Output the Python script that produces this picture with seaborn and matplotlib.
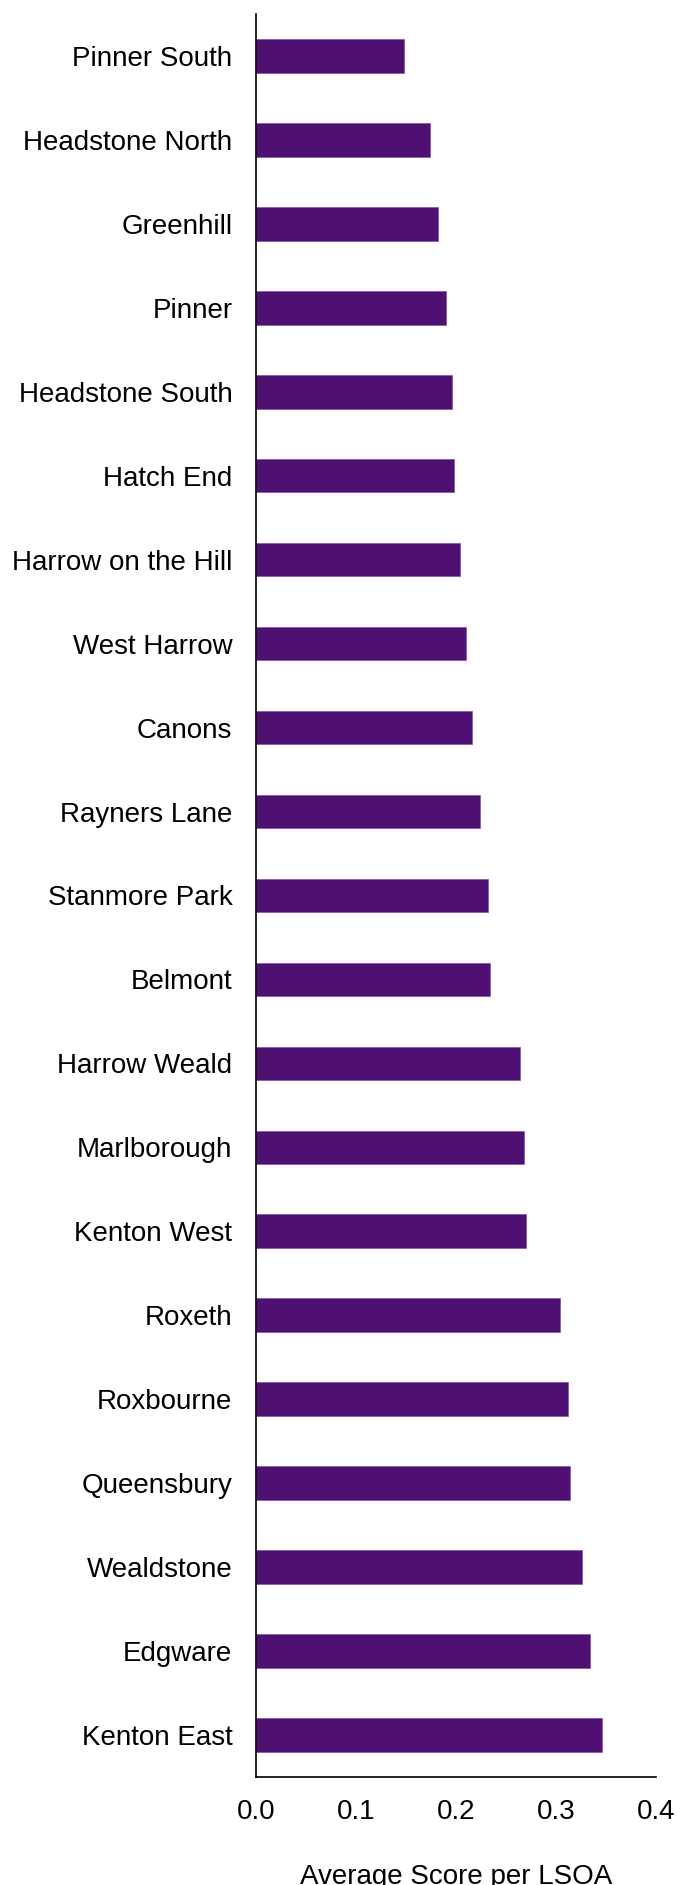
import matplotlib
matplotlib.use('Agg')
import matplotlib.pyplot as plt
import seaborn as sns
import pandas as pd

# ward names, top to bottom
wards = ['Pinner South', 'Headstone North', 'Greenhill', 'Pinner', 'Headstone South',
         'Hatch End', 'Harrow on the Hill', 'West Harrow', 'Canons', 'Rayners Lane',
         'Stanmore Park', 'Belmont', 'Harrow Weald', 'Marlborough', 'Kenton West',
         'Roxeth', 'Roxbourne', 'Queensbury', 'Wealdstone', 'Edgware', 'Kenton East']
# average score per LSOA
scores = [0.148, 0.174, 0.182, 0.190, 0.196,
          0.198, 0.204, 0.210, 0.216, 0.224,
          0.232, 0.234, 0.264, 0.268, 0.270,
          0.304, 0.312, 0.314, 0.326, 0.334, 0.346]
x_ticks = [0.0, 0.1, 0.2, 0.3, 0.4]

bar_color = '#4E1172'

sns.set_theme(style='white')
plt.rcParams['font.family'] = ['Liberation Sans', 'DejaVu Sans']
plt.rcParams['text.color'] = 'black'
plt.rcParams['xtick.color'] = 'black'
plt.rcParams['ytick.color'] = 'black'
plt.rcParams['axes.labelcolor'] = 'black'

df = pd.DataFrame({'ward': wards, 'score': scores})

fig = plt.figure(figsize=(6.81, 18.85), dpi=100)
ax = fig.add_axes([0.376, 0.0573, 0.587, 0.9353])

sns.barplot(data=df, x='score', y='ward', color=bar_color, width=0.4,
            saturation=1, edgecolor='#8a5aa8', linewidth=0.6, ax=ax)

ax.set_xlim(0, 0.4)
ax.set_ylim(len(wards) - 0.5, -0.5)
ax.set_xticks(x_ticks)
ax.set_xticklabels(['%.1f' % t for t in x_ticks])
ax.set_ylabel('')
ax.set_xlabel('Average Score per LSOA', fontsize=20, labelpad=28)

ax.tick_params(axis='y', length=0, pad=17, labelsize=20)
ax.tick_params(axis='x', length=0, pad=16, labelsize=20)

for s in ['top', 'right']:
    ax.spines[s].set_visible(False)
for s in ['left', 'bottom']:
    ax.spines[s].set_color('black')
    ax.spines[s].set_linewidth(1.2)

plt.savefig('out.png', dpi=100)
